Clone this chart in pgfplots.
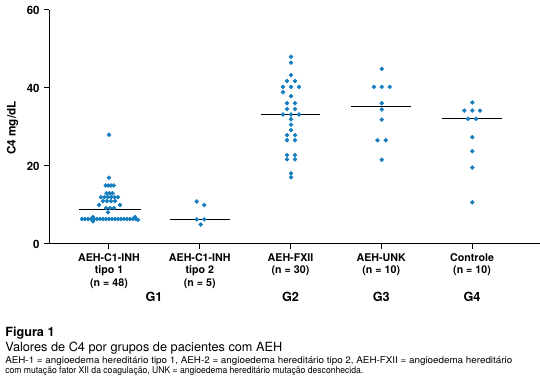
\documentclass[border=0pt]{standalone}
\usepackage{pgfplots}
\pgfplotsset{compat=1.18}
\usepackage{pgfplotstable}
\usepackage{graphicx}
\usepackage{fontspec}
\setmainfont{TeX Gyre Heros}
\definecolor{dotblue}{RGB}{22,126,190}

% group 0: AEH-C1-INH tipo 1 (n=48)
\pgfplotstableread{
g dx v
0 0 28
0 0 17
0 -3.3 15
0 -0.6 15
0 2 15
0 4.7 15
0 -2.5 13
0 0.5 13
0 3.5 13
0 -8 12
0 -4.6 12
0 -1.2 12
0 2.2 12
0 5.6 12
0 9 12
0 -6 11
0 -2 11
0 2 11
0 6 11
0 -10 10
0 11 10
0 -3 9.2
0 1 9.2
0 5 9.2
0 -1 8.1
0 -16 6.9
0 26 6.9
0 -27 6.4
0 -24 6.4
0 -21 6.4
0 -18 6.4
0 -15 6.4
0 -12 6.4
0 -9 6.4
0 -6 6.4
0 -3 6.4
0 0 6.4
0 3 6.4
0 6 6.4
0 9 6.4
0 12 6.4
0 15 6.4
0 18 6.4
0 21 6.4
0 24 6.4
0 27 6.4
0 -16 5.8
0 29 6.2
}\dataA
% group 1: AEH-C1-INH tipo 2 (n=5)
\pgfplotstableread{
g dx v
1 -3 10.9
1 4.5 10.0
1 -3 6.3
1 4.5 6.3
1 1 5.0
}\dataB
% group 2: AEH-FXII (n=30)
\pgfplotstableread{
g dx v
2 0.5 48.0
2 0.5 46.5
2 0.5 43.3
2 -3.5 41.8
2 4.5 41.8
2 -7.5 40.3
2 0.5 40.3
2 8.5 40.3
2 -7.5 38.9
2 0.5 37.9
2 -3.5 36.1
2 4.5 36.1
2 -3.5 34.6
2 4.5 34.6
2 -7.5 33.2
2 0.5 33.2
2 8.5 33.2
2 0.5 32.0
2 0.5 30.6
2 0.5 29.2
2 -3.5 27.9
2 4.5 27.9
2 -3.5 26.6
2 4.5 26.6
2 -3.5 22.8
2 4.5 22.8
2 -3.5 21.7
2 4.5 21.7
2 0.5 18.1
2 0.5 17.1
}\dataC
% group 3: AEH-UNK (n=10)
\pgfplotstableread{
g dx v
3 0.5 44.9
3 -7.3 40.3
3 0.5 40.3
3 8.5 40.3
3 0.5 36.1
3 0.5 34.5
3 0.5 31.9
3 -3.8 26.6
3 4.5 26.6
3 0.5 21.6
}\dataD
% group 4: Controle (n=10)
\pgfplotstableread{
g dx v
4 0.3 36.3
4 -7.7 34.2
4 0.3 34.2
4 8.0 34.2
4 -4 32.1
4 4 32.1
4 0.3 27.4
4 0.3 23.8
4 0.3 19.6
4 0.3 10.7
}\dataE

\begin{document}
\begin{tikzpicture}
\begin{axis}[
  at={(36.75pt,108.75pt)}, anchor=south west,
  scale only axis, width=368.25pt, height=175.5pt,
  xmin=-0.661, xmax=4.749, ymin=0, ymax=60,
  axis x line=bottom, axis y line=left,
  axis line style={-, line width=0.75pt, black},
  tick style={black, line width=0.75pt},
  tick align=outside, major tick length=3.5pt,
  xtick={0,1,2,3,4}, ytick={0,20,40,60},
  minor tick num=0,
  xticklabels={{AEH-C1-INH\\tipo 1\\(n = 48)},{AEH-C1-INH\\tipo 2\\(n = 5)},{AEH-FXII\\(n = 30)},{AEH-UNK\\(n = 10)},{Controle\\(n = 10)}},
  xticklabel style={align=center, font=\bfseries\fontsize{8}{9.4}\selectfont, anchor=north},
  yticklabel style={font=\bfseries\fontsize{8.6}{9}\selectfont},
  /pgf/number format/assume math mode=true,
  clip=false,
]
\addplot[only marks, mark=*, mark size=1.45pt, color=dotblue, line width=0.4pt]
  table[x expr={\thisrow{g}+\thisrow{dx}/90.75}, y=v]{\dataA};
\addplot[only marks, mark=*, mark size=1.45pt, color=dotblue, line width=0.4pt]
  table[x expr={\thisrow{g}+\thisrow{dx}/90.75}, y=v]{\dataB};
\addplot[only marks, mark=*, mark size=1.45pt, color=dotblue, line width=0.4pt]
  table[x expr={\thisrow{g}+\thisrow{dx}/90.75}, y=v]{\dataC};
\addplot[only marks, mark=*, mark size=1.45pt, color=dotblue, line width=0.4pt]
  table[x expr={\thisrow{g}+\thisrow{dx}/90.75}, y=v]{\dataD};
\addplot[only marks, mark=*, mark size=1.45pt, color=dotblue, line width=0.4pt]
  table[x expr={\thisrow{g}+\thisrow{dx}/90.75}, y=v]{\dataE};
\addplot[black, line width=0.75pt] coordinates {(-0.33,8.9) (0.35,8.9)};
\addplot[black, line width=0.75pt] coordinates {(0.67,6.3) (1.33,6.3)};
\addplot[black, line width=0.75pt] coordinates {(1.67,33.2) (2.33,33.2)};
\addplot[black, line width=0.75pt] coordinates {(2.67,35.3) (3.33,35.3)};
\addplot[black, line width=0.75pt] coordinates {(3.67,32.1) (4.33,32.1)};
\end{axis}
\begin{scope}[x=0.75pt, y=-0.75pt, shift={(0pt,291.75pt)}]
  \node[rotate=90, font=\bfseries\fontsize{8.8}{10}\selectfont, inner sep=0] at (12.5,128) {C4 mg/dL};
  \node[anchor=base, inner sep=0, font=\bfseries\fontsize{9.5}{11}\selectfont] at (154,301.5) {G1};
  \node[anchor=base, inner sep=0, font=\bfseries\fontsize{9.5}{11}\selectfont] at (290.5,301.5) {G2};
  \node[anchor=base, inner sep=0, font=\bfseries\fontsize{9.5}{11}\selectfont] at (381.25,301.5) {G3};
  \node[anchor=base, inner sep=0, font=\bfseries\fontsize{9.5}{11}\selectfont] at (472,301.5) {G4};
  \node[anchor=base west, inner sep=0, font=\bfseries\fontsize{9.5}{11}\selectfont] at (5,336.7) {Figura 1};
  \node[anchor=base west, inner sep=0, font=\fontsize{9.5}{11}\selectfont] at (5,351.7) {\resizebox{207.75pt}{\height}{Valores de C4 por grupos de pacientes com AEH}};
  \node[anchor=base west, inner sep=0, font=\fontsize{7}{8}\selectfont] at (5,363.3) {\resizebox{380.25pt}{\height}{AEH-1 = angioedema hereditário tipo 1, AEH-2 = angioedema hereditário tipo 2, AEH-FXII = angioedema hereditário}};
  \node[anchor=base west, inner sep=0, font=\fontsize{7}{8}\selectfont] at (5,373.3) {\resizebox{268.5pt}{\height}{com mutação fator XII da coagulação, UNK = angioedema hereditário mutação desconhecida.}};
  \pgfresetboundingbox
  \path (0,0) rectangle (540,389);
\end{scope}
\end{tikzpicture}
\end{document}
